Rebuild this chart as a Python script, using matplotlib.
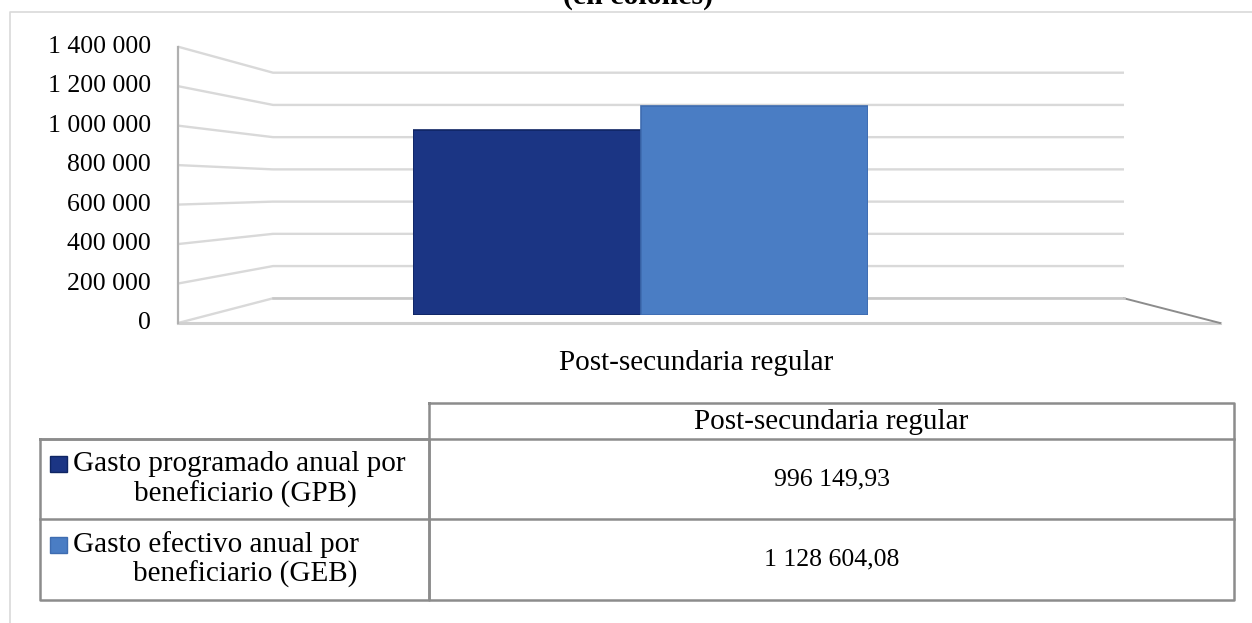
import matplotlib
matplotlib.use('Agg')
from matplotlib import pyplot as plt
from matplotlib.patches import Rectangle

plt.rcParams['font.family'] = ['Liberation Serif', 'DejaVu Serif']

# data
category = 'Post-secundaria regular'
series_names = [['Gasto programado anual por', 'beneficiario (GPB)'],
                ['Gasto efectivo anual por', 'beneficiario (GEB)']]
series_values = [996149.93, 1128604.08]
value_labels = ['996 149,93', '1 128 604,08']
series_colors = ['#1b3584', '#4a7dc4']
edge_colors = ['#0f2563', '#3e6cb0']
y_ticks = [0, 200000, 400000, 600000, 800000, 1000000, 1200000, 1400000]
y_tick_labels = ['0', '200 000', '400 000', '600 000', '800 000',
                 '1 000 000', '1 200 000', '1 400 000']

W, H = 1252, 623
fig = plt.figure(figsize=(W / 100, H / 100), dpi=100)

# background layer in pixel coordinates (frame, pseudo-3d walls, table)
bg = fig.add_axes([0, 0, 1, 1])
bg.set_xlim(0, W)
bg.set_ylim(H, 0)
bg.axis('off')

ymax = y_ticks[-1]
front_x, back_x0, back_x1, front_x1 = 178, 273, 1124, 1220
front_y0, front_y1 = 323, 46.7
back_y0, back_y1 = 298.3, 72.7


def front_y(v):
    return front_y0 - v / ymax * (front_y0 - front_y1)


def back_y(v):
    return back_y0 - v / ymax * (back_y0 - back_y1)


# chart frame
bg.plot([10, 10, W], [H, 12, 12], color='#d9d9d9', lw=1.2)

# gridlines on the side and back walls
for v in y_ticks:
    bg.plot([front_x, back_x0, back_x1], [front_y(v), back_y(v), back_y(v)],
            color='#d9d9d9', lw=1.7, solid_capstyle='butt')
# floor
bg.plot([front_x, front_x1], [front_y(0), front_y(0)], color='#d0d0d0', lw=2.2)
bg.plot([back_x1, front_x1], [back_y(0), front_y(0)], color='#8c8c8c', lw=1.4)
bg.plot([back_x0, back_x1], [back_y(0), back_y(0)], color='#c8c8c8', lw=1.8)
# vertical axis line
bg.plot([front_x, front_x], [front_y(ymax), front_y(0)], color='#b0b0b0', lw=1.6)

for v, lab in zip(y_ticks, y_tick_labels):
    bg.text(151, front_y(v), lab, ha='right', va='center', fontsize=18.5)

bg.text(696, 370, category, ha='center', va='baseline', fontsize=21)
bg.text(638, 4, '(en colones)', ha='center', va='baseline', fontsize=21.5,
        fontweight='bold')

# bars in their own axes (value 0 sits at pixel y=315)
bar_px = (413, 868)
base_px, top_px = 315, 55.3
ax = fig.add_axes([bar_px[0] / W, (H - base_px) / H,
                   (bar_px[1] - bar_px[0]) / W, (base_px - top_px) / H])
ax.set_xlim(-1, 1)
ax.set_ylim(0, ymax)
ax.axis('off')
ax.patch.set_alpha(0)
ax.bar([-0.5, 0.5], series_values, width=1.0, color=series_colors,
       edgecolor=edge_colors, linewidth=1.2)

# data table
tl, tm, tr = 40, 429, 1234
rows_y = [403.3, 439.3, 519.3, 600]
lc = '#8c8c8c'
bg.plot([tm, tr, tr, tm, tm], [rows_y[0], rows_y[0], rows_y[3], rows_y[3], rows_y[0]],
        color=lc, lw=1.8)
bg.plot([tl, tm, tm, tl, tl], [rows_y[1], rows_y[1], rows_y[3], rows_y[3], rows_y[1]],
        color=lc, lw=1.8)
bg.plot([tl, tr], [rows_y[1], rows_y[1]], color=lc, lw=1.8)
bg.plot([tl, tr], [rows_y[2], rows_y[2]], color=lc, lw=1.8)

bg.text((tm + tr) / 2, (rows_y[0] + rows_y[1]) / 2 + 1, category,
        ha='center', va='center', fontsize=21)
for i in range(2):
    yc = (rows_y[i + 1] + rows_y[i + 2]) / 2
    bg.add_patch(Rectangle((50, yc - 23), 17, 16, facecolor=series_colors[i],
                           edgecolor=edge_colors[i], lw=1))
    bg.text(73, yc - 15, series_names[i][0], ha='left', va='center', fontsize=21)
    bg.text(245, yc + 15, series_names[i][1], ha='center', va='center', fontsize=21)
    bg.text((tm + tr) / 2, yc, value_labels[i], ha='center', va='center',
            fontsize=18.5)

fig.savefig('out.png', dpi=100)
